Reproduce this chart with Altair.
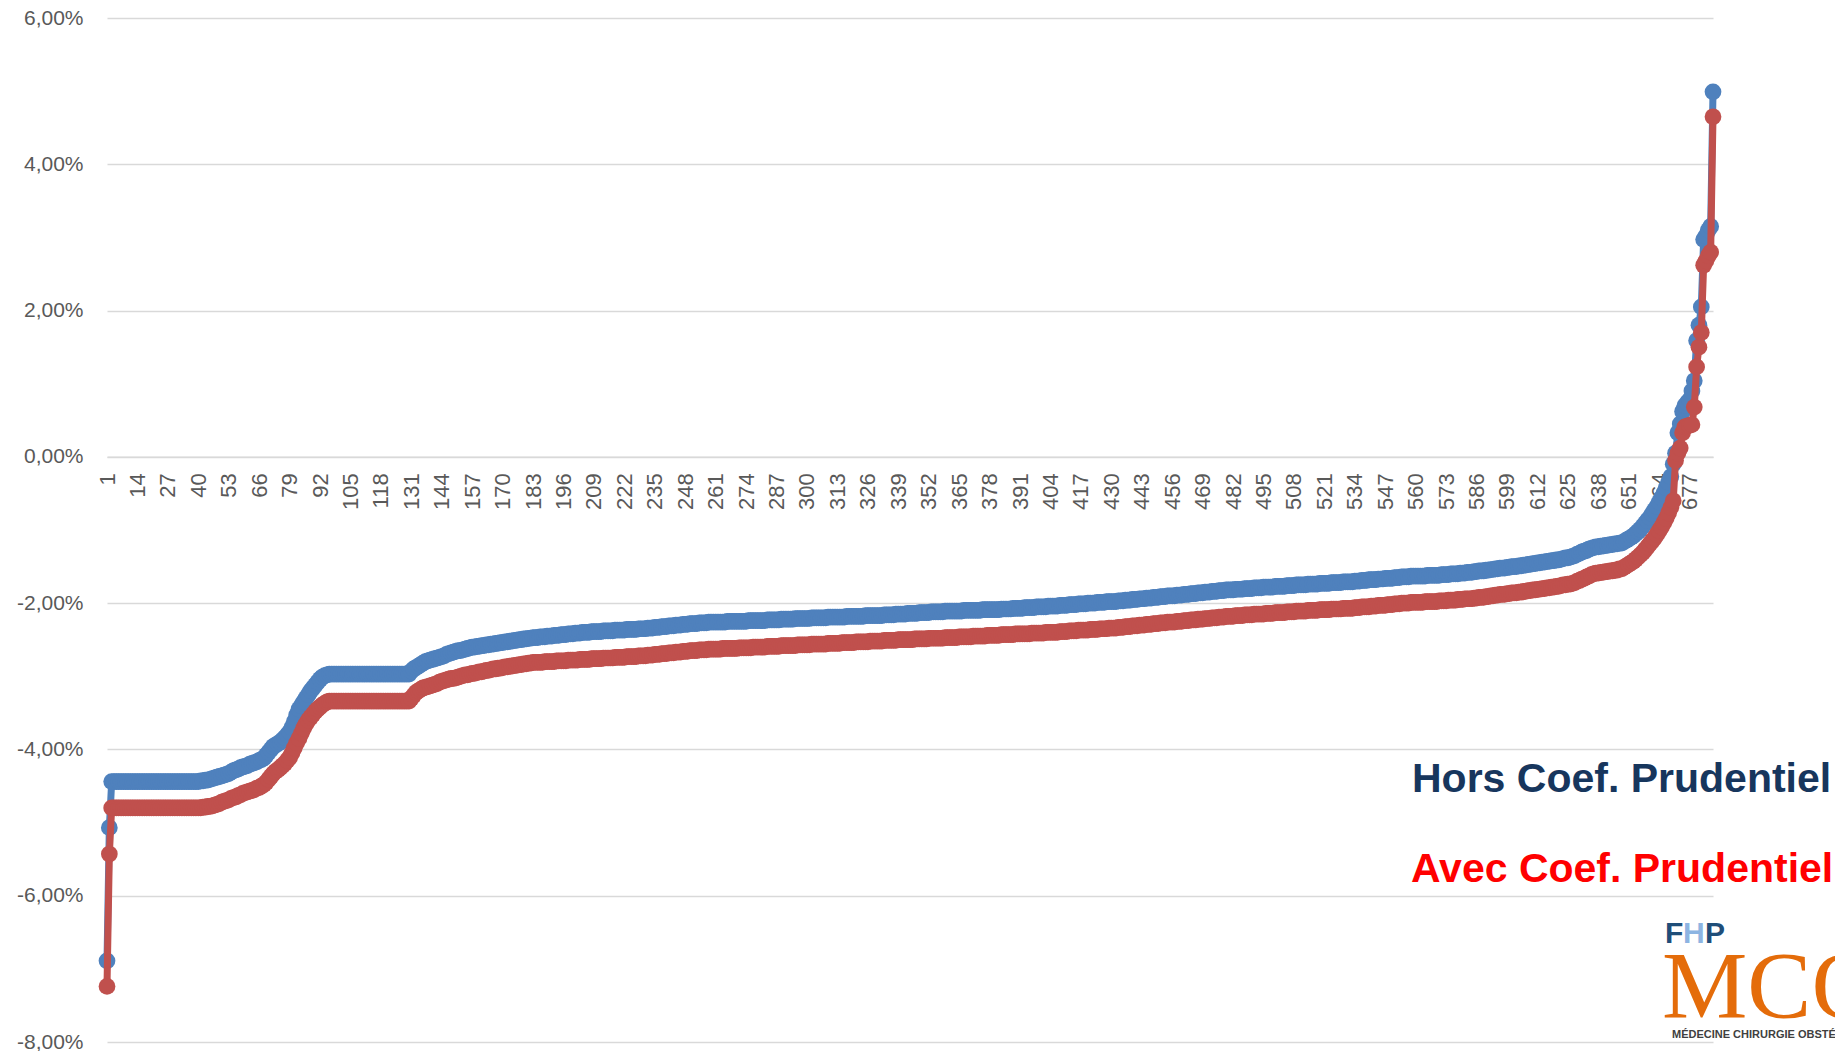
import altair as alt
import pandas as pd

# ---- data (value in %, number of consecutive points) ----
BLUE_RUNS = [
    (-6.89, 1), (-5.07, 1), (-4.44, 38), (-4.43, 2), (-4.42, 2), (-4.41, 1),
    (-4.40, 1), (-4.39, 1), (-4.38, 1), (-4.37, 1), (-4.36, 1), (-4.35, 1),
    (-4.34, 1), (-4.33, 1), (-4.31, 1), (-4.29, 1), (-4.28, 1), (-4.27, 1),
    (-4.25, 1), (-4.24, 1), (-4.23, 1), (-4.22, 1), (-4.20, 1), (-4.19, 1),
    (-4.18, 1), (-4.17, 1), (-4.15, 1), (-4.14, 1), (-4.12, 1), (-4.08, 1),
    (-4.04, 1), (-4.00, 1), (-3.96, 1), (-3.94, 1), (-3.92, 1), (-3.90, 1),
    (-3.87, 1), (-3.84, 1), (-3.80, 1), (-3.76, 1), (-3.70, 1), (-3.62, 1),
    (-3.53, 1), (-3.45, 1), (-3.40, 1), (-3.35, 1), (-3.30, 1), (-3.25, 1),
    (-3.20, 1), (-3.16, 1), (-3.12, 1), (-3.08, 1), (-3.04, 1), (-3.01, 1),
    (-2.99, 1), (-2.98, 1), (-2.97, 35), (-2.93, 1), (-2.90, 1), (-2.88, 1),
    (-2.86, 1), (-2.84, 1), (-2.82, 1), (-2.80, 1), (-2.79, 1), (-2.78, 1),
    (-2.77, 1), (-2.76, 1), (-2.75, 1), (-2.74, 1), (-2.73, 1), (-2.72, 1),
    (-2.70, 1), (-2.69, 1), (-2.68, 1), (-2.67, 1), (-2.66, 1), (-2.65, 2),
    (-2.64, 1), (-2.63, 1), (-2.62, 1), (-2.61, 1), (-2.60, 2), (-2.59, 2),
    (-2.58, 2), (-2.57, 2), (-2.56, 2), (-2.55, 2), (-2.54, 2), (-2.53, 2),
    (-2.52, 2), (-2.51, 2), (-2.50, 2), (-2.49, 2), (-2.48, 2), (-2.47, 3),
    (-2.46, 3), (-2.45, 3), (-2.44, 3), (-2.43, 3), (-2.42, 3), (-2.41, 3),
    (-2.40, 4), (-2.39, 5), (-2.38, 5), (-2.37, 5), (-2.36, 5), (-2.35, 4),
    (-2.34, 3), (-2.33, 3), (-2.32, 3), (-2.31, 3), (-2.30, 3), (-2.29, 3),
    (-2.28, 4), (-2.27, 4), (-2.26, 8), (-2.25, 9), (-2.24, 8), (-2.23, 6),
    (-2.22, 6), (-2.21, 7), (-2.20, 7), (-2.19, 8), (-2.18, 8), (-2.17, 8),
    (-2.16, 5), (-2.15, 5), (-2.14, 5), (-2.13, 5), (-2.12, 6), (-2.11, 8),
    (-2.10, 8), (-2.09, 8), (-2.08, 5), (-2.07, 5), (-2.06, 5), (-2.05, 5),
    (-2.04, 5), (-2.03, 4), (-2.02, 4), (-2.01, 4), (-2.00, 4), (-1.99, 4),
    (-1.98, 5), (-1.97, 3), (-1.96, 3), (-1.95, 3), (-1.94, 3), (-1.93, 3),
    (-1.92, 3), (-1.91, 3), (-1.90, 4), (-1.89, 3), (-1.88, 3), (-1.87, 3),
    (-1.86, 3), (-1.85, 3), (-1.84, 3), (-1.83, 3), (-1.82, 4), (-1.81, 4),
    (-1.80, 4), (-1.79, 4), (-1.78, 5), (-1.77, 5), (-1.76, 4), (-1.75, 5),
    (-1.74, 5), (-1.73, 5), (-1.72, 5), (-1.71, 5), (-1.70, 3), (-1.69, 3),
    (-1.68, 4), (-1.67, 3), (-1.66, 4), (-1.65, 3), (-1.64, 4), (-1.63, 7),
    (-1.62, 6), (-1.61, 4), (-1.60, 4), (-1.59, 3), (-1.58, 3), (-1.57, 2),
    (-1.56, 3), (-1.55, 2), (-1.54, 2), (-1.53, 2), (-1.52, 3), (-1.51, 2),
    (-1.50, 3), (-1.49, 2), (-1.48, 2), (-1.47, 2), (-1.46, 2), (-1.45, 2),
    (-1.44, 2), (-1.43, 2), (-1.42, 2), (-1.41, 2), (-1.40, 1), (-1.39, 1),
    (-1.38, 2), (-1.37, 1), (-1.36, 1), (-1.35, 1), (-1.33, 1), (-1.32, 1),
    (-1.30, 1), (-1.29, 1), (-1.28, 1), (-1.26, 1), (-1.25, 1), (-1.24, 1),
    (-1.23, 2), (-1.22, 2), (-1.21, 2), (-1.20, 2), (-1.19, 2), (-1.18, 2),
    (-1.16, 1), (-1.14, 1), (-1.12, 1), (-1.10, 1), (-1.08, 1), (-1.05, 1),
    (-1.02, 1), (-0.99, 1), (-0.95, 1), (-0.91, 1), (-0.87, 1), (-0.83, 1),
    (-0.78, 1), (-0.73, 1), (-0.68, 1), (-0.62, 1), (-0.56, 1), (-0.50, 1),
    (-0.42, 1), (-0.35, 1), (-0.27, 1), (-0.10, 1), (0.05, 1), (0.33, 1),
    (0.45, 1), (0.62, 1), (0.70, 1), (0.74, 1), (0.78, 1), (0.90, 1),
    (1.04, 1), (1.59, 1), (1.80, 1), (2.05, 1), (2.97, 1), (3.02, 1),
    (3.10, 1), (3.15, 1), (4.99, 1),
]

RED_RUNS = [
    (-7.24, 1), (-5.43, 1), (-4.80, 39), (-4.79, 2), (-4.78, 2), (-4.77, 1),
    (-4.76, 1), (-4.75, 1), (-4.74, 1), (-4.72, 1), (-4.71, 1), (-4.70, 1),
    (-4.69, 1), (-4.67, 1), (-4.66, 1), (-4.65, 1), (-4.63, 1), (-4.62, 1),
    (-4.60, 1), (-4.59, 1), (-4.58, 1), (-4.57, 1), (-4.56, 1), (-4.55, 1),
    (-4.53, 1), (-4.52, 1), (-4.50, 1), (-4.48, 1), (-4.45, 1), (-4.41, 1),
    (-4.37, 1), (-4.33, 1), (-4.30, 1), (-4.28, 1), (-4.25, 1), (-4.22, 1),
    (-4.19, 1), (-4.15, 1), (-4.11, 1), (-4.05, 1), (-3.98, 1), (-3.91, 1),
    (-3.85, 1), (-3.78, 1), (-3.71, 1), (-3.65, 1), (-3.60, 1), (-3.56, 1),
    (-3.52, 1), (-3.48, 1), (-3.45, 1), (-3.42, 1), (-3.39, 1), (-3.37, 1),
    (-3.35, 1), (-3.34, 35), (-3.30, 1), (-3.26, 1), (-3.22, 1), (-3.20, 1),
    (-3.18, 1), (-3.16, 1), (-3.15, 1), (-3.14, 1), (-3.13, 1), (-3.12, 1),
    (-3.11, 1), (-3.10, 1), (-3.08, 1), (-3.07, 1), (-3.06, 1), (-3.05, 1),
    (-3.04, 1), (-3.03, 2), (-3.02, 1), (-3.01, 1), (-3.00, 1), (-2.99, 1),
    (-2.98, 2), (-2.97, 1), (-2.96, 2), (-2.95, 1), (-2.94, 2), (-2.93, 1),
    (-2.92, 2), (-2.91, 1), (-2.90, 2), (-2.89, 2), (-2.88, 1), (-2.87, 2),
    (-2.86, 2), (-2.85, 2), (-2.84, 2), (-2.83, 2), (-2.82, 2), (-2.81, 5),
    (-2.80, 5), (-2.79, 5), (-2.78, 5), (-2.77, 5), (-2.76, 5), (-2.75, 5),
    (-2.74, 5), (-2.73, 5), (-2.72, 4), (-2.71, 3), (-2.70, 3), (-2.69, 3),
    (-2.68, 3), (-2.67, 3), (-2.66, 3), (-2.65, 4), (-2.64, 4), (-2.63, 6),
    (-2.62, 7), (-2.61, 6), (-2.60, 6), (-2.59, 6), (-2.58, 7), (-2.57, 6),
    (-2.56, 7), (-2.55, 6), (-2.54, 6), (-2.53, 6), (-2.52, 6), (-2.51, 6),
    (-2.50, 7), (-2.49, 6), (-2.48, 7), (-2.47, 6), (-2.46, 6), (-2.45, 6),
    (-2.44, 6), (-2.43, 6), (-2.42, 7), (-2.41, 6), (-2.40, 6), (-2.39, 4),
    (-2.38, 4), (-2.37, 5), (-2.36, 4), (-2.35, 4), (-2.34, 4), (-2.33, 3),
    (-2.32, 3), (-2.31, 3), (-2.30, 3), (-2.29, 3), (-2.28, 3), (-2.27, 3),
    (-2.26, 4), (-2.25, 3), (-2.24, 3), (-2.23, 3), (-2.22, 3), (-2.21, 3),
    (-2.20, 3), (-2.19, 3), (-2.18, 4), (-2.17, 4), (-2.16, 4), (-2.15, 5),
    (-2.14, 4), (-2.13, 5), (-2.12, 4), (-2.11, 5), (-2.10, 5), (-2.09, 5),
    (-2.08, 5), (-2.07, 5), (-2.06, 3), (-2.05, 4), (-2.04, 3), (-2.03, 4),
    (-2.02, 3), (-2.01, 3), (-2.00, 4), (-1.99, 6), (-1.98, 6), (-1.97, 4),
    (-1.96, 4), (-1.95, 3), (-1.94, 4), (-1.93, 2), (-1.92, 3), (-1.91, 2),
    (-1.90, 2), (-1.89, 2), (-1.88, 3), (-1.87, 2), (-1.86, 3), (-1.85, 2),
    (-1.84, 2), (-1.83, 2), (-1.82, 2), (-1.81, 2), (-1.80, 2), (-1.79, 2),
    (-1.78, 2), (-1.77, 2), (-1.76, 1), (-1.75, 2), (-1.74, 2), (-1.73, 1),
    (-1.72, 1), (-1.70, 1), (-1.69, 1), (-1.67, 1), (-1.66, 1), (-1.64, 1),
    (-1.63, 1), (-1.61, 1), (-1.60, 1), (-1.59, 2), (-1.58, 2), (-1.57, 2),
    (-1.56, 2), (-1.55, 2), (-1.53, 2), (-1.51, 1), (-1.49, 1), (-1.47, 1),
    (-1.45, 1), (-1.43, 1), (-1.40, 1), (-1.37, 1), (-1.34, 1), (-1.31, 1),
    (-1.27, 1), (-1.23, 1), (-1.19, 1), (-1.15, 1), (-1.11, 1), (-1.06, 1),
    (-1.01, 1), (-0.96, 1), (-0.90, 1), (-0.84, 1), (-0.77, 1), (-0.69, 1),
    (-0.60, 1), (-0.05, 1), (0.05, 1), (0.12, 1), (0.33, 1), (0.41, 1),
    (0.42, 1), (0.43, 1), (0.44, 1), (0.68, 1), (1.23, 1), (1.50, 1),
    (1.70, 1), (2.62, 1), (2.68, 1), (2.75, 1), (2.80, 1), (4.65, 1),
]

X_TICKS = [1, 14, 27, 40, 53, 66, 79, 92, 105, 118, 131, 144, 157, 170, 183,
           196, 209, 222, 235, 248, 261, 274, 287, 300, 313, 326, 339, 352,
           365, 378, 391, 404, 417, 430, 443, 456, 469, 482, 495, 508, 521,
           534, 547, 560, 573, 586, 599, 612, 625, 638, 651, 664, 677]
Y_TICKS = [-8, -6, -4, -2, 0, 2, 4, 6]
Y_DOMAIN = [-8, 6]
N_POINTS = 687

LABEL_HORS = "Hors Coef. Prudentiel"
LABEL_AVEC = "Avec Coef. Prudentiel"


def expand(runs):
    vals = []
    for v, n in runs:
        vals.extend([v] * n)
    return vals


blue = expand(BLUE_RUNS)
red = expand(RED_RUNS)
df_blue = pd.DataFrame({"rang": list(range(1, len(blue) + 1)), "ecart": blue})
df_red = pd.DataFrame({"rang": list(range(1, len(red) + 1)), "ecart": red})

BLUE = "#4F81BD"
RED = "#C0504D"
GRID = "#D9D9D9"
AXIS_TXT = "#595959"
FONT = "Liberation Sans"

W, H = 1606, 1024
zero_offset = -H * (0 - Y_DOMAIN[0]) / (Y_DOMAIN[1] - Y_DOMAIN[0])

x_enc = alt.X(
    "rang:Q",
    scale=alt.Scale(domain=[1, N_POINTS], nice=False, zero=False),
    axis=alt.Axis(
        values=X_TICKS, title=None, labelAngle=270, labelFontSize=22,
        labelColor=AXIS_TXT, labelFont=FONT, labelPadding=16, ticks=False,
        domain=True, domainColor=GRID, domainWidth=1.5, grid=False,
        offset=zero_offset, labelOverlap=False, labelBound=False,
        labelFlush=False,
    ),
)
y_enc = alt.Y(
    "ecart:Q",
    scale=alt.Scale(domain=Y_DOMAIN, nice=False, zero=False),
    axis=alt.Axis(
        values=Y_TICKS, title=None, ticks=False, domain=False, grid=True,
        gridColor=GRID, gridWidth=1.5, labelFontSize=21, labelColor=AXIS_TXT,
        labelFont=FONT, labelPadding=24,
        labelExpr="(datum.value < 0 ? '-' : '') + replace(format(abs(datum.value), '.2f'), '.', ',') + '%'",
    ),
)

LINE_W = 7
PT_SIZE = 280

blue_line = alt.Chart(df_blue).mark_line(color=BLUE, strokeWidth=LINE_W, strokeJoin="round").encode(x=x_enc, y=y_enc)
blue_pts = alt.Chart(df_blue).mark_circle(color=BLUE, size=PT_SIZE, opacity=1).encode(x=x_enc, y=y_enc)
red_line = alt.Chart(df_red).mark_line(color=RED, strokeWidth=LINE_W, strokeJoin="round").encode(x=x_enc, y=y_enc)
red_pts = alt.Chart(df_red).mark_circle(color=RED, size=PT_SIZE, opacity=1).encode(x=x_enc, y=y_enc)


def label(text, x, y, color, size, font=FONT, weight="bold"):
    return alt.Chart(pd.DataFrame({"t": [text]})).mark_text(
        align="left", baseline="alphabetic", font=font, fontSize=size,
        fontWeight=weight, color=color,
    ).encode(text="t:N", x=alt.value(x), y=alt.value(y))


texts = [
    label(LABEL_HORS, 1305, 774, "#17365D", 41),
    label(LABEL_AVEC, 1304, 864, "#FF0000", 41),
    label("F", 1558, 925, "#1F4E79", 30),
    label("H", 1576, 925, "#8DB4E2", 30),
    label("P", 1598, 925, "#1F4E79", 30),
    label("MCO", 1555, 1000, "#E46C0A", 96, font="Liberation Serif", weight="normal"),
    label("MÉDECINE CHIRURGIE OBSTÉTRIQUE", 1565, 1020, "#404040", 11,
          font="'Liberation Sans Narrow', 'Liberation Sans'"),
]

chart = alt.layer(blue_line, blue_pts, red_line, red_pts, *texts).properties(
    width=W, height=H,
    padding={"left": 99, "top": 10, "right": 122, "bottom": 9},
    autosize=alt.AutoSizeParams(type="none"),
    background="white",
).configure_view(stroke=None)

chart.save("out.html", embed_options={"renderer": "svg", "actions": False})
